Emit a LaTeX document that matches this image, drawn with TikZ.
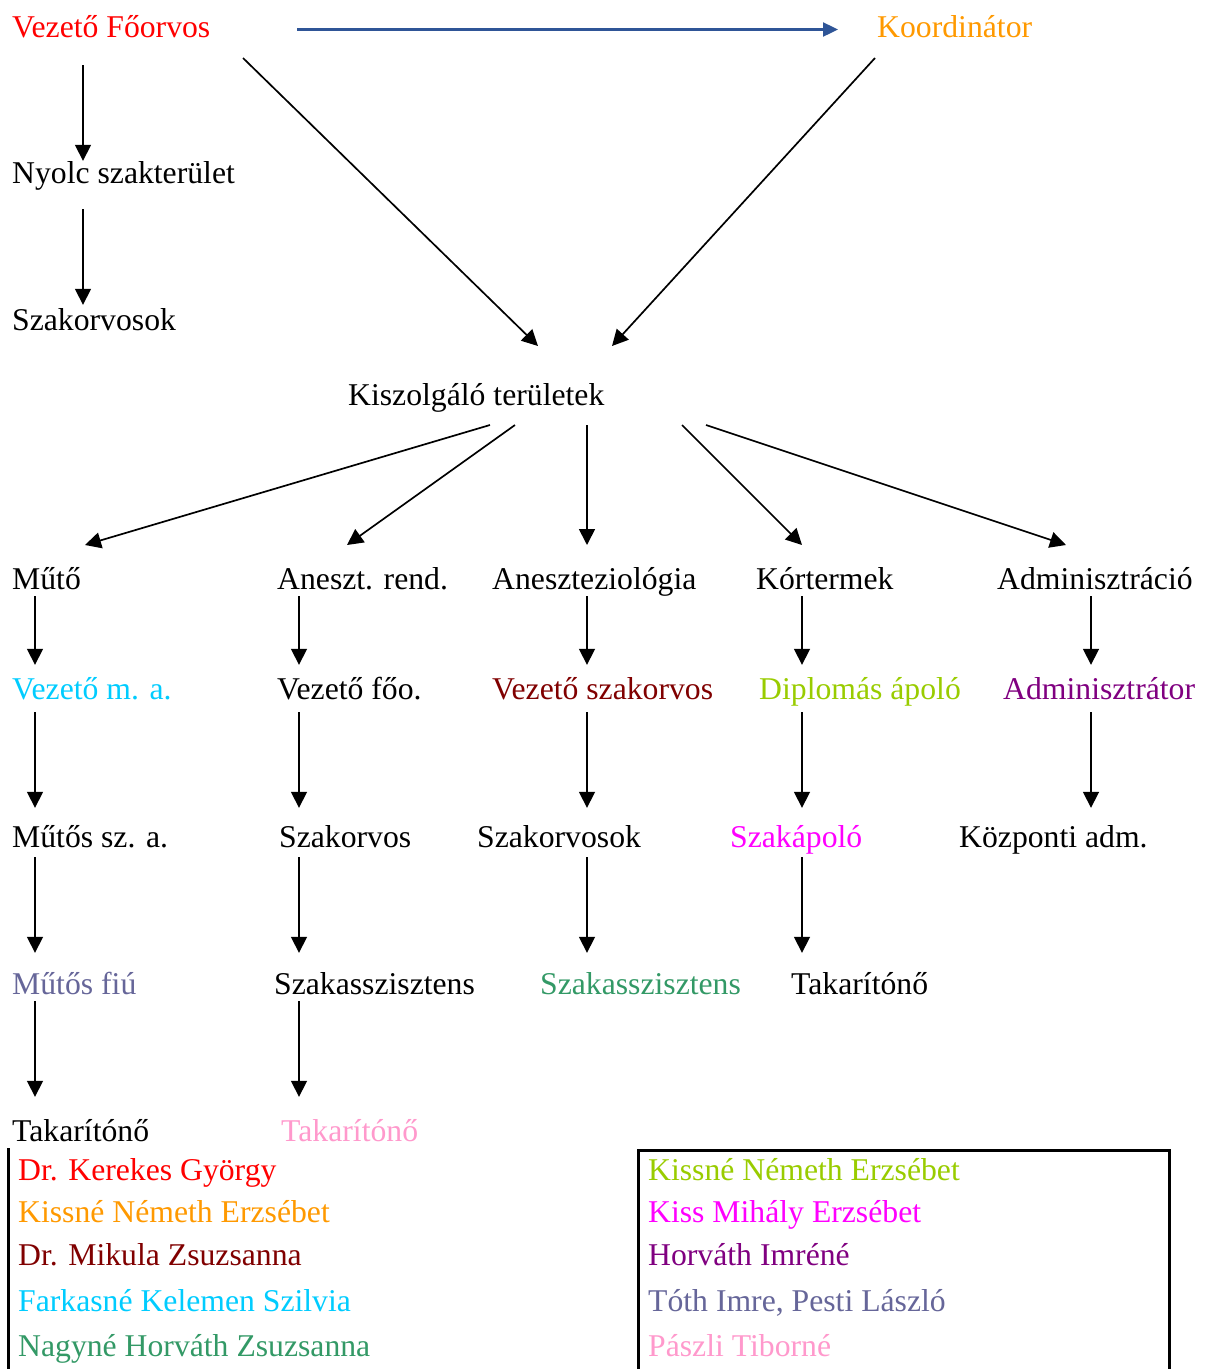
\documentclass[tikz,border=0pt]{standalone}
\usepackage{fontspec}
\setmainfont{Liberation Serif}
\usetikzlibrary{positioning, arrows.meta}
\definecolor{vezred}{HTML}{FF0000}
\definecolor{koordorange}{HTML}{FF9900}
\definecolor{sotetpiros}{HTML}{800000}
\definecolor{cian}{HTML}{00CCFF}
\definecolor{zold}{HTML}{339966}
\definecolor{sargazold}{HTML}{99CC00}
\definecolor{lila}{HTML}{800080}
\definecolor{bibor}{HTML}{FF00FF}
\definecolor{szurkekek}{HTML}{666699}
\definecolor{rozsaszin}{HTML}{FF99CC}
\definecolor{toparrow}{HTML}{2F5597}
\tikzset{
org node/.style = {
             anchor=base west,
             inner sep=0pt,
             text height=22pt,
             text depth=7pt,
             font=\fontsize{31.7}{38}\selectfont
   },
link/.style = {
     -{Triangle[width=16pt,length=16pt]},
     line width=1.7pt
     },
top link/.style = {
     -{Triangle[width=14pt,length=15pt]},
     draw=toparrow,
     line width=2.4pt
     },
legend line/.style = {
     line width=3pt
  },
% gaps of the vertical arrows, row by row
r12/.style = {shorten >=12pt},
r23/.style = {shorten <=6pt, shorten >=17pt},
r34/.style = {shorten <=3pt, shorten >=19pt},
r45/.style = {shorten >=22pt}
}

\begin{document}
\begin{tikzpicture}[x=1pt, y=-1pt]
\useasboundingbox (0,0) rectangle (1205,1369);
% columns of the vertical arrows
\coordinate (c0) at (83,0);
\coordinate (c1) at (35,0);
\coordinate (c2) at (299,0);
\coordinate (c3) at (587,0);
\coordinate (c4) at (802,0);
\coordinate (c5) at (1091,0);

\node[org node, text=vezred] (vf) at (12,37) {Vezető Főorvos};
\node[org node, text=koordorange] (ko) at (877,37) {Koordinátor};
\node[org node] (nyolc) at (12,183) {Nyolc szakterület};
\node[org node] (szak) at (12,330) {Szakorvosok};
\node[org node] (kt) at (348,405) {Kiszolgáló területek};

\node[org node] (mut) at (12,589) {Műtő};
\node[org node] (anr) at (277,589) {Aneszt. rend.};
\node[org node] (anz) at (492,589) {Aneszteziológia};
\node[org node] (kor) at (756,589) {Kórtermek};
\node[org node] (adm) at (997,589) {Adminisztráció};

\node[org node, text=cian] (vma) at (12,699) {Vezető m. a.};
\node[org node] (vfo) at (277,699) {Vezető főo.};
\node[org node, text=sotetpiros] (vsz) at (492,699) {Vezető szakorvos};
\node[org node, text=sargazold] (dap) at (759,699) {Diplomás ápoló};
\node[org node, text=lila] (admr) at (1003,699) {Adminisztrátor};

\node[org node] (msa) at (12,847) {Műtős sz. a.};
\node[org node] (szo) at (279,847) {Szakorvos};
\node[org node] (szos) at (477,847) {Szakorvosok};
\node[org node, text=bibor] (szap) at (730,847) {Szakápoló};
\node[org node] (kadm) at (959,847) {Központi adm.};

\node[org node, text=szurkekek] (mfiu) at (12,994) {Műtős fiú};
\node[org node] (szasz1) at (274,994) {Szakasszisztens};
\node[org node, text=zold] (szasz2) at (540,994) {Szakasszisztens};
\node[org node] (tak3) at (791,994) {Takarítónő};

\node[org node] (tak1) at (12,1141) {Takarítónő};
\node[org node, text=rozsaszin] (tak2) at (281,1141) {Takarítónő};

\draw[top link, shorten <=87pt, shorten >=39pt] (vf.east) -- (ko.west);
\draw[link, shorten <=21pt] (vf.south -| c0) -- (nyolc.north -| c0);
\draw[link, shorten <=19pt, shorten >=3pt] (nyolc.south -| c0) -- (szak.north -| c0);
\draw[link] ([shift={(231,21)}]vf.base west) -- ([shift={(190,-59)}]kt.base west);
\draw[link] ([shift={(-2,21)}]ko.base west) -- ([shift={(264,-59)}]kt.base west);

\foreach \s/\t/\e in {142/mut/73, 167/anr/70, 239/anz/95, 334/kor/46, 358/adm/69}
  \draw[link] ([shift={(\s,20)}]kt.base west) -- ([shift={(\e,-44)}]\t.base west);

\foreach \c/\a/\b/\r in {c1/mut/vma/r12, c1/vma/msa/r23, c1/msa/mfiu/r34, c1/mfiu/tak1/r45,
                         c2/anr/vfo/r12, c2/vfo/szo/r23, c2/szo/szasz1/r34, c2/szasz1/tak2/r45,
                         c3/anz/vsz/r12, c3/vsz/szos/r23, c3/szos/szasz2/r34,
                         c4/kor/dap/r12, c4/dap/szap/r23, c4/szap/tak3/r34,
                         c5/adm/admr/r12, c5/admr/kadm/r23}
  \draw[link, \r] (\a.south -| \c) -- (\b.north -| \c);

% legend
\draw[legend line, line width=2.5pt] (8.5,1148) -- (8.5,1369);
\draw[legend line] (638.5,1369) |- (1169,1150) -- (1169,1369);
\foreach \name/\y/\col/\txt in {lgl1/1180/vezred/{Dr. Kerekes György},
                                lgl2/1222/koordorange/{Kissné Németh Erzsébet},
                                lgl3/1265/sotetpiros/{Dr. Mikula Zsuzsanna},
                                lgl4/1311/cian/{Farkasné Kelemen Szilvia},
                                lgl5/1356/zold/{Nagyné Horváth Zsuzsanna}}
  \node[org node, text=\col] (\name) at (18,\y) {\txt};
\foreach \name/\y/\col/\txt in {lgr1/1180/sargazold/{Kissné Németh Erzsébet},
                                lgr2/1222/bibor/{Kiss Mihály Erzsébet},
                                lgr3/1265/lila/{Horváth Imréné},
                                lgr4/1311/szurkekek/{Tóth Imre, Pesti László},
                                lgr5/1356/rozsaszin/{Pászli Tiborné}}
  \node[org node, text=\col] (\name) at (648,\y) {\txt};
\end{tikzpicture}
\end{document}
